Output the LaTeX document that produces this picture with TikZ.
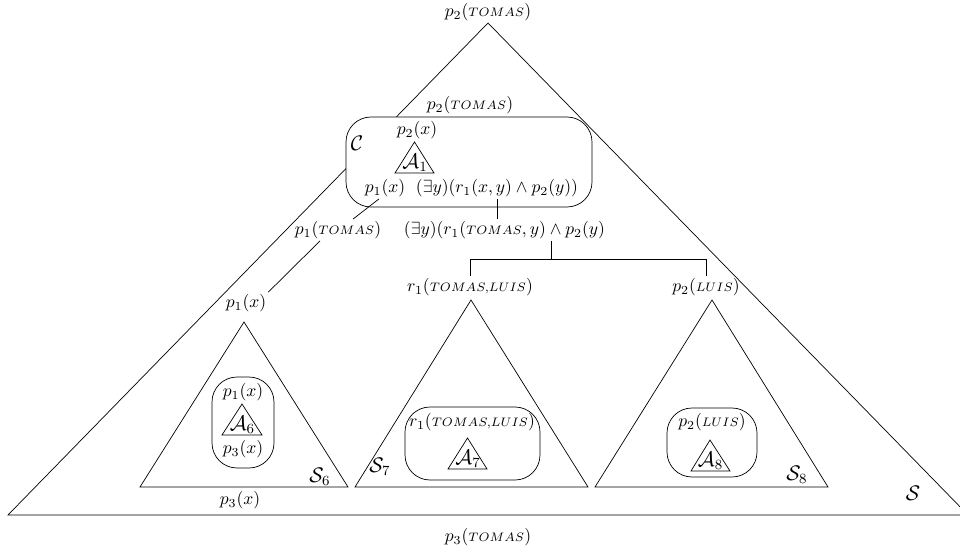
\documentclass[tikz,border=0pt]{standalone}
\usepackage{tikz}

\newcommand{\cte}[1]{{\scriptstyle #1}}

\begin{document}
\begin{tikzpicture}[lbl/.style={inner sep=1pt}, cbox/.style={rounded corners=0.5cm, fill=white}]
        \useasboundingbox (0,0) rectangle (19.2,11.02);
        % big tree S
        \draw (0.16,0.72) -- (9.76,10.56) -- (19.36,0.72) -- cycle;  %S
        \node[lbl] (topS)  at (9.76,10.78) {$p_2(\cte{TOMAS})$};
        \node[lbl] (botS)  at (9.76,0.28)  {$p_3(\cte{TOMAS})$};
        \node      (nameS) at (18.26,1.16) {\large$\mathcal{S}$};

        % clause C
        \draw[cbox] (6.92,6.88) rectangle (11.84,8.68);              %C
        \node[lbl] (topC)  at (9.4,8.92)   {$p_2(\cte{TOMAS})$};
        \node      (nameC) at (7.14,8.16)  {\large$\mathcal{C}$};
        \node[lbl] (p2C)   at (8.34,8.42)  {$p_2(x)$};
        \draw (8.29,8.18) -- (7.9,7.56) -- (8.68,7.56) -- cycle;     %A1
        \node[lbl] (A1)    at (8.3,7.76)   {\large$\mathcal{A}_1$};
        \node[lbl] (p1C)   at (7.7,7.26)   {$p_1(x)$};
        \node[lbl] (ex1)   at (9.94,7.26)  {$(\exists y)(r_1(x,y)\wedge p_2(y))$};

        % instances
        \node[lbl] (p1T)   at (6.76,6.42)  {$p_1(\cte{TOMAS})$};
        \node[lbl] (ex2)   at (10.09,6.42) {$(\exists y)(r_1(\cte{TOMAS},y)\wedge p_2(y)$};
        \node[lbl] (p1S)   at (4.92,4.96)  {$p_1(x)$};
        \node[lbl] (r1T)   at (9.4,5.28)   {$r_1(\cte{TOMAS,LUIS})$};
        \node[lbl] (p2L)   at (14.12,5.28) {$p_2(\cte{LUIS})$};

        \draw ([xshift=-0.12cm]p1C.south) -- ([xshift=0.3cm]p1T.north);
        \draw ([xshift=-0.36cm]p1T.south) -- (p1S.north east);
        \draw (ex1.south) -- (ex1.south |- ex2.north);
        \draw ([xshift=0.94cm]ex2.south) -- ++(0,-0.36) coordinate (fork);
        \draw (r1T.north) |- (fork) -| (p2L.north);

        % tree S6
        \draw (4.88,4.58) -- (2.8,1.28) -- (6.96,1.28) -- cycle;     %S6
        \node      (nameS6) at (6.4,1.48)  {\large$\mathcal{S}_6$};
        \node[lbl] (p3S)    at (4.8,1.02)  {$p_3(x)$};
        \draw[cbox] (4.24,1.66) rectangle (5.48,3.48);
        \node[lbl] (p1A6)   at (4.86,3.18) {$p_1(x)$};
        \draw (4.84,2.94) -- (4.44,2.32) -- (5.24,2.32) -- cycle;    %A6
        \node[lbl] (A6)     at (4.85,2.52) {\large$\mathcal{A}_6$};
        \node[lbl] (p3A6)   at (4.86,2.04) {$p_3(x)$};

        % tree S7
        \draw (9.42,5.02) -- (7.1,1.28) -- (11.76,1.28) -- cycle;    %S7
        \node      (nameS7) at (7.6,1.68)  {\large$\mathcal{S}_7$};
        \draw[cbox] (8.1,1.42) rectangle (10.8,2.88);
        \node[lbl] (r1A7)   at (9.44,2.58) {$r_1(\cte{TOMAS,LUIS})$};
        \draw (9.35,2.26) -- (8.96,1.64) -- (9.74,1.64) -- cycle;    %A7
        \node[lbl] (A7)     at (9.36,1.84) {\large$\mathcal{A}_7$};

        % tree S8
        \draw (14.24,5.02) -- (11.9,1.28) -- (16.56,1.28) -- cycle;  %S8
        \node      (nameS8) at (15.94,1.52) {\large$\mathcal{S}_8$};
        \draw[cbox] (13.34,1.48) rectangle (15.14,2.86);
        \node[lbl] (p2A8)   at (14.24,2.58) {$p_2(\cte{LUIS})$};
        \draw (14.2,2.22) -- (13.82,1.6) -- (14.6,1.6) -- cycle;     %A8
        \node[lbl] (A8)     at (14.21,1.8)  {\large$\mathcal{A}_8$};
\end{tikzpicture}
\end{document}
